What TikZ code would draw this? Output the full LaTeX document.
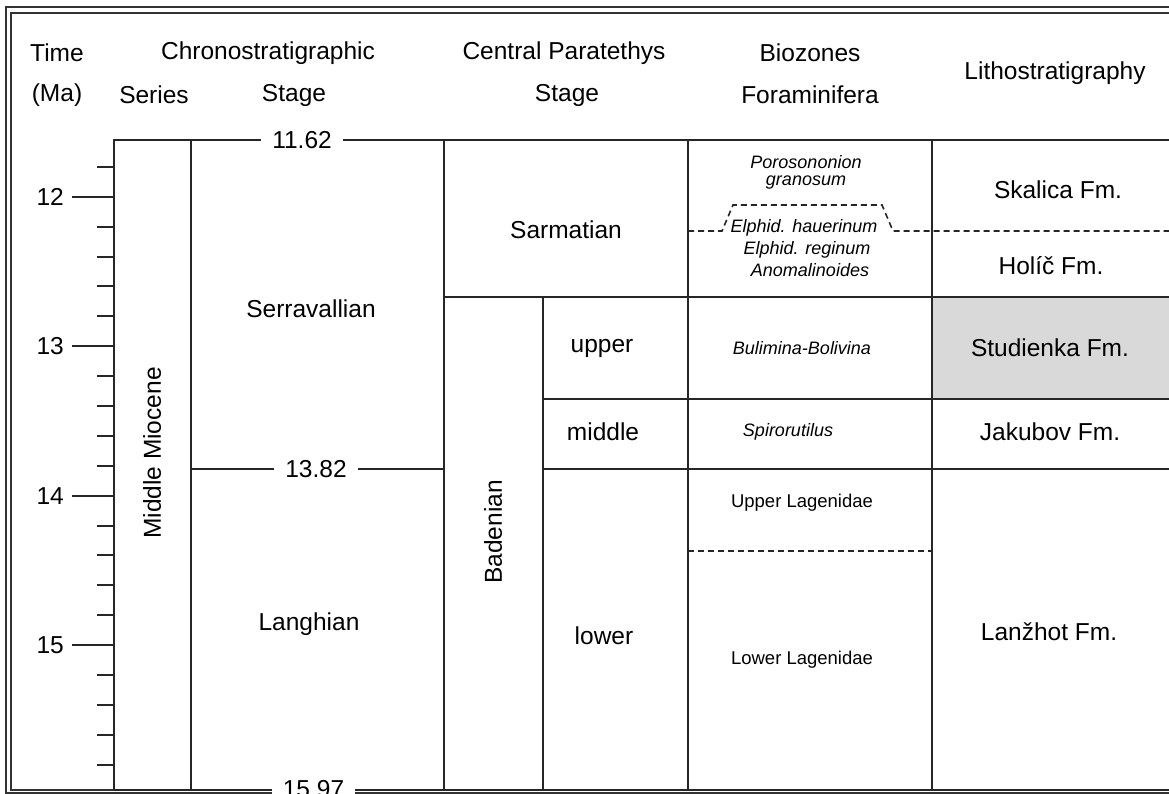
\documentclass[tikz,border=0pt]{standalone}
\usepackage{fontspec}
\setmainfont{Liberation Sans}
\begin{document}
\begin{tikzpicture}[x=1pt,y=-1pt,
  big/.style={font=\fontsize{24.5}{28}\selectfont, inner sep=0pt},
  sml/.style={font=\fontsize{18}{20}\selectfont\itshape, inner sep=0pt},
  smlup/.style={font=\fontsize{18.5}{20}\selectfont, inner sep=0pt},
  tbl/.style={line width=2pt, color=black!85},
  frm/.style={line width=1.8pt, color=black!80},
  dsh/.style={line width=1.6pt, color=black!85, dash pattern=on 6pt off 4pt},
  age/.style={big, fill=white, inner xsep=11pt, inner ysep=3pt},
  tick/.style={line width=2pt, color=black!85}]
\useasboundingbox (0,0) rectangle (1169,794);
\clip (0,0) rectangle (1169,794);
\fill[white] (0,0) rectangle (1169,794);
% frame
\draw[frm] (1169,7) -- (6,7) -- (6,793) -- (1169,793);
\draw[frm] (1169,13) -- (11,13) -- (11,790) -- (1169,790);
% grey box
\fill[black!15] (932,297) rectangle (1169,399);
% table lines
\draw[tbl] (114,790) -- (114,140) -- (1169,140);
\foreach \xx in {191,444,688,932} \draw[tbl] (\xx,140) -- (\xx,790);
\draw[tbl] (543,297) -- (543,790);
\draw[tbl] (444,297) -- (1169,297);
\draw[tbl] (543,399) -- (1169,399);
\draw[tbl] (191,469) -- (444,469);
\draw[tbl] (543,469) -- (1169,469);
\draw[tbl] (114,790) -- (1169,790);
% dashed
\draw[dsh] (688,231) -- (722,231) -- (733,205) -- (882,205) -- (893,231) -- (1169,231);
\draw[dsh] (688,551) -- (932,551);
% ticks
\foreach \i in {1,...,21} {
  \pgfmathsetmacro{\yy}{140+(11.6+0.2*\i-11.62)*149.425}
  \draw[tick] (97,\yy) -- (114,\yy);
}
\foreach \v/\yy in {12/196.8,13/346.2,14/495.6,15/645.1} {
  \draw[tick] (72,\yy) -- (114,\yy);
  \node[big, anchor=east] (t\v) at (64,\yy) {\v};
}
% age labels
\node[age] (a1162) at (302,140) {11.62};
\node[age] (a1382) at (316,469) {13.82};
\node[age] (a1597) at (313.5,789) {15.97};
% headers
\node[big] (hTime) at (57,53) {Time};
\node[big] (hMa) at (57,95) {(Ma)};
\node[big] (hChron) at (268,53) {Chronostratigraphic};
\node[big] (hSeries) at (154,95) {Series};
\node[big] (hStage) at (294,95) {Stage};
\node[big] (hCP) at (564,53) {Central Paratethys};
\node[big] (hCPs) at (567,95) {Stage};
\node[big] (hBio) at (810,53) {Biozones};
\node[big] (hForam) at (810,95) {Foraminifera};
\node[big] (hLitho) at (1055,73) {Lithostratigraphy};
% chrono
\node[big, rotate=90] (mm) at (152,453) {Middle Miocene};
\node[big] (serr) at (311,309) {Serravallian};
\node[big] (lang) at (309,624) {Langhian};
% central paratethys
\node[big] (sarm) at (566,230) {Sarmatian};
\node[big, rotate=90] (bad) at (493,532) {Badenian};
\node[big] (up) at (602,348) {upper};
\node[big] (mid) at (603,432) {middle};
\node[big] (low) at (604,636) {lower};
% biozones
\node[sml] (b1) at (806,162) {Porosononion};
\node[sml] (b2) at (806,183) {granosum};
\node[sml] (b3) at (804,228) {Elphid. hauerinum};
\node[sml] (b4) at (807,250) {Elphid. reginum};
\node[sml] (b5) at (810,270) {Anomalinoides};
\node[sml] (b6) at (802,348) {Bulimina-Bolivina};
\node[sml] (b7) at (788,432) {Spirorutilus};
\node[smlup] (b8) at (802,503) {Upper Lagenidae};
\node[smlup] (b9) at (802,660) {Lower Lagenidae};
% litho
\node[big] (l1) at (1058,190) {Skalica Fm.};
\node[big] (l2) at (1051,266) {Holíč Fm.};
\node[big] (l3) at (1050,348) {Studienka Fm.};
\node[big] (l4) at (1050,432) {Jakubov Fm.};
\node[big] (l5) at (1049,632) {Lanžhot Fm.};
\end{tikzpicture}
\end{document}
